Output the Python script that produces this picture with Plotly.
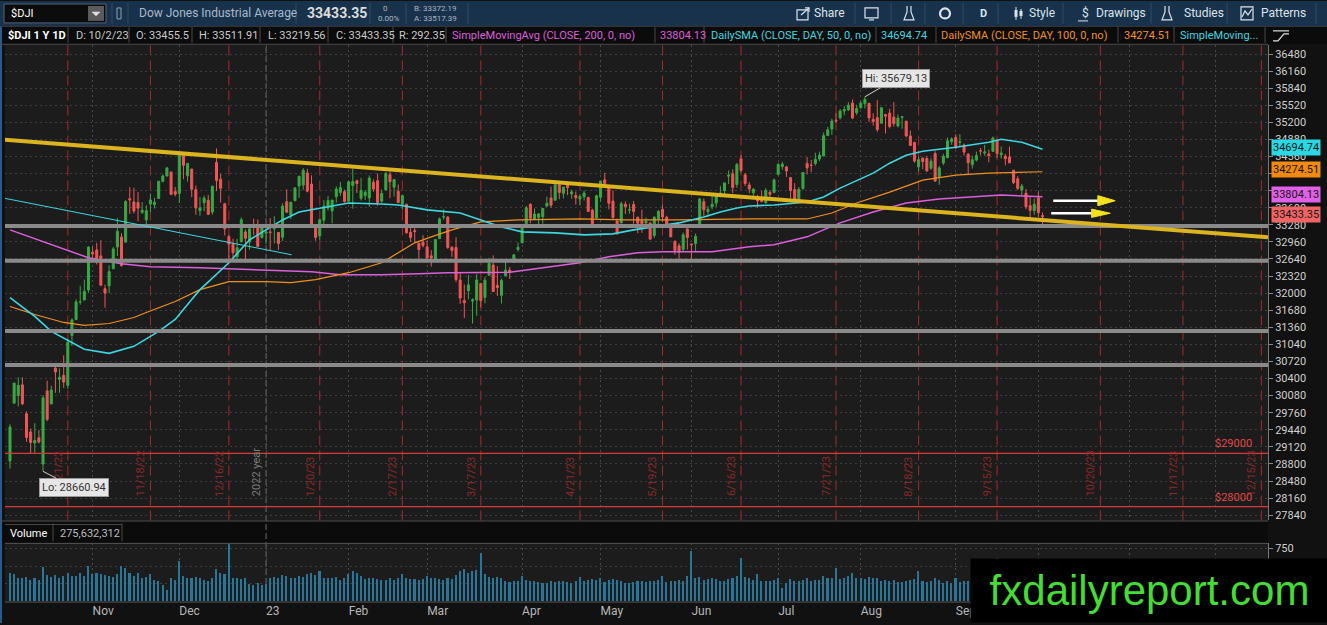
import pandas as pd
import plotly.graph_objects as go

W, H = 1327, 625
FONT = "Roboto, 'Open Sans', sans-serif"

# ---------------- trading calendar (NYSE sessions) ----------------
HOLIDAYS = ["2022-11-24", "2022-12-26", "2023-01-02", "2023-01-16", "2023-02-20", "2023-04-07",
            "2023-05-29", "2023-06-19", "2023-07-04", "2023-09-04", "2023-11-23", "2023-12-25"]
sessions = [d.strftime("%Y-%m-%d") for d in pd.bdate_range("2022-10-03", "2023-12-29")]
sessions = [d for d in sessions if d not in HOLIDAYS]
bar_of = {d: i for i, d in enumerate(sessions)}

# ---------------- daily OHLC of $DJI (Oct 3 2022 .. Oct 2 2023) ----------------
opens = [
    28856, 29938, 30084, 30282, 29740, 29400, 29193, 29291, 28800, 30168, 29923, 30598, 30384, 30460, 30273, 31208, 31504, 31836, 31871, 32061, 32768,
    32810, 32698, 32084, 32138, 32459, 32863, 33050, 32956, 33769, 33710, 33698, 33514, 33372, 33670, 33660, 33774, 34097, 34194, 34269, 33904, 33866,
    34579, 34198, 34324, 33940, 33546, 33696, 33740, 33519, 34449, 34136, 33674, 33060, 32924, 32683, 32965, 33147, 32961, 33264, 33280, 33045, 33121,
    33148, 33207, 33136, 33048, 33712, 33461, 33731, 34006, 34025, 34253, 34044, 33225, 33073, 33367, 33597, 33541, 33807, 33885, 33902, 33723,
    34015, 34105, 33776, 33827, 33785, 34079, 34106, 33722, 33935, 34219, 33985, 33909, 33664, 33665, 33139, 33171, 32937, 32958, 32867,
    32699, 32596, 33021, 33426, 33426, 32860, 32855, 32246, 31859, 32046, 31851, 31872, 32182, 31921, 32335, 32526, 32146, 31960, 32324, 32433, 32577, 32820, 32942,
    33301, 33665, 33389, 33416, 33431, 33630, 33784, 33740, 34029, 33870, 34043, 33859, 33829, 33765, 33804, 33793, 33555, 33406, 33797,
    34123, 33991, 33725, 33353, 33315, 33666, 33556, 33662, 33420, 33355, 33315, 33312, 33080, 33395, 33570, 33422, 33220, 32972, 32888, 32818, 33202, 32921,
    32928, 33240, 33714, 33528, 33620, 33687, 33835, 33920, 34191, 34238, 34036, 34516, 34216, 34027, 33879, 33761, 33754, 33700, 33887, 33887, 34226,
    34370, 34365, 34165, 33940, 33753, 33962, 34432, 34398, 34429, 34514, 34570, 34953, 35075, 35243, 35284, 35413, 35433, 35561, 35380, 35477,
    35550, 35558, 35257, 35288, 35184, 35347, 35373, 35299, 35131, 35293, 35223, 34946, 34822, 34366, 34531, 34522, 34339, 34617, 34182, 34437, 34538, 34837, 34918,
    34828, 34775, 34605, 34408, 34493, 34666, 34624, 34608, 34656, 34862, 34593, 34565, 34550, 34303, 34142, 33934, 33874, 33640, 33546, 33785,
    33455.5,
]
highs = [
    29543, 30317, 30424, 30424, 29785, 29461, 29565, 29435, 30089, 30360, 30268, 30663, 30590, 30835, 31143, 31527, 31886, 32137, 32254, 32878, 32873,
    32941, 32989, 32158, 32523, 32864, 33408, 33123, 33740, 33988, 33975, 33892, 33705, 33648, 33866, 33787, 34098, 34225, 34363, 34279, 33990, 34590,
    34595, 34439, 34333, 34016, 33802, 33825, 33838, 34006, 34712, 34235, 33692, 33092, 33019, 33017, 33420, 33193, 33226, 33395, 33380, 33297, 33152,
    33407, 33440, 33136, 33684, 33946, 33704, 33974, 34199, 34342, 34330, 34208, 33235, 33384, 33742, 33818, 33746, 34000, 34083, 33941, 34101,
    34335, 34124, 34162, 33929, 34206, 34134, 34240, 33938, 34268, 34274, 34128, 34035, 33847, 33672, 33256, 33264, 32937, 33087, 32985,
    32805, 33007, 33418, 33572, 33442, 32881, 33046, 32390, 32161, 32340, 31902, 32364, 32183, 32300, 32661, 32708, 32505, 32273, 32629, 32491, 32730, 32950, 33274,
    33633, 33683, 33584, 33496, 33590, 33809, 33999, 34039, 34082, 33988, 34082, 33938, 33903, 33857, 33921, 33804, 33581, 33841, 34104,
    34257, 33992, 33923, 33400, 33713, 33719, 33675, 33726, 33435, 33563, 33415, 33334, 33444, 33552, 33654, 33450, 33261, 32985, 32934, 33135, 33211, 32925,
    33115, 33787, 33775, 33634, 33839, 33861, 34007, 34067, 34299, 34322, 34441, 34589, 34255, 34078, 33970, 33842, 33916, 33967, 33927, 34148, 34441,
    34463, 34384, 34165, 34060, 33990, 34270, 34549, 34494, 34630, 34652, 35009, 35115, 35268, 35370, 35451, 35505, 35578, 35630, 35528, 35597,
    35679.13, 35558, 35371, 35620, 35486, 35347, 35453, 35579, 35349, 35316, 35223, 35046, 34839, 34557, 34537, 34573, 34527, 34658, 34382, 34611, 34913, 34919, 34976,
    34979, 34802, 34619, 34574, 34651, 34720, 34778, 34689, 34934, 34872, 34749, 34608, 34747, 34310, 34191, 34046, 33950, 33811, 33775, 33900,
    33511.91,
]
lows = [
    28715, 29938, 29878, 29903, 29214, 28995, 28990, 29184, 28660.94, 29600, 29923, 30133, 30133, 30226, 30206, 31012, 31504, 31783, 31871, 32006, 32592,
    32537, 32146, 31727, 32000, 32459, 32695, 32500, 32956, 33484, 33492, 33346, 33484, 33266, 33522, 33585, 33774, 34075, 34194, 33837, 33814, 33688,
    34134, 34087, 33797, 33469, 33450, 33535, 33467, 33470, 33912, 33697, 33081, 32573, 32640, 32581, 32948, 32573, 32813, 33088, 32868, 33019, 32920,
    32813, 32932, 32812, 32978, 33499, 33388, 33731, 33786, 33936, 33889, 33271, 32983, 32991, 33290, 33547, 33308, 33694, 33822, 33696, 33718,
    33582, 33876, 33738, 33747, 33617, 33899, 33637, 33692, 33924, 33781, 33809, 33692, 33560, 33118, 32957, 32950, 32581, 32857, 32656,
    32500, 32580, 33019, 33378, 32829, 32679, 32206, 31801, 31532, 31886, 31430, 31576, 31731, 31810, 32335, 32028, 31949, 31805, 32324, 32266, 32577, 32780, 32942,
    33284, 33310, 33375, 33274, 33300, 33630, 33598, 33740, 33760, 33777, 33837, 33768, 33660, 33650, 33735, 33520, 33228, 33406, 33713,
    34012, 33570, 33393, 33090, 33315, 33482, 33488, 33301, 33124, 33130, 33204, 33005, 33033, 33264, 33335, 33240, 33047, 32720, 32586, 32773, 32815, 32577,
    32790, 33240, 33436, 33428, 33567, 33618, 33794, 33858, 34044, 33875, 33975, 34262, 34005, 33871, 33762, 33601, 33709, 33672, 33750, 33883, 34205,
    34313, 34178, 33780, 33715, 33753, 33936, 34223, 34266, 34391, 34472, 34570, 34946, 34967, 35188, 35254, 35332, 35415, 35260, 35340, 35453,
    35460, 35210, 35140, 35024, 35184, 34990, 35087, 35120, 35105, 35080, 34917, 34761, 34442, 34282, 34321, 34276, 34310, 34084, 34030, 34398, 34527, 34781, 34703,
    34750, 34579, 34226, 34334, 34467, 34581, 34574, 34452, 34656, 34534, 34521, 34396, 34435, 34046, 33932, 33833, 33573, 33355, 33469, 33427,
    33219.56,
]
closes = [
    29491, 30316, 30274, 29927, 29297, 29203, 29239, 29211, 30039, 29635, 30186, 30524, 30424, 30334, 31083, 31500, 31837, 31839, 32033, 32862, 32733,
    32653, 32148, 32001, 32403, 32827, 33161, 32514, 33715, 33748, 33537, 33593, 33554, 33546, 33746, 33700, 34098, 34194, 34347, 33849, 33853, 34590,
    34395, 34430, 33947, 33596, 33598, 33781, 33476, 34005, 34109, 33966, 33202, 32920, 32758, 32850, 33376, 33027, 33204, 33242, 32876, 33221, 33147,
    33136, 33270, 32930, 33631, 33518, 33704, 33973, 34190, 34303, 33911, 33297, 33045, 33375, 33630, 33734, 33744, 33949, 33978, 33717, 34086,
    34093, 34054, 33926, 33891, 34157, 33949, 33700, 33869, 34246, 34089, 34128, 33697, 33827, 33130, 33045, 33154, 32817, 32889, 32657,
    32662, 33004, 33391, 33431, 32856, 32798, 32255, 31910, 31819, 32155, 31875, 32247, 31862, 32245, 32561, 32030, 32105, 32238, 32432, 32394, 32718, 32859, 33274,
    33601, 33402, 33483, 33485, 33587, 33685, 33647, 34030, 33886, 33987, 33977, 33897, 33787, 33809, 33875, 33531, 33302, 33826, 34098,
    34052, 33685, 33414, 33128, 33674, 33619, 33562, 33531, 33310, 33301, 33349, 33012, 33421, 33536, 33427, 33287, 33056, 32800, 32765, 33093, 33043, 32908,
    33062, 33763, 33563, 33573, 33665, 33834, 33877, 34066, 34212, 33979, 34408, 34299, 34054, 33952, 33947, 33727, 33715, 33927, 33853, 34122, 34408,
    34418, 34289, 33922, 33735, 33944, 34261, 34347, 34395, 34509, 34585, 34952, 35061, 35225, 35228, 35411, 35438, 35520, 35283, 35459, 35560,
    35631, 35283, 35216, 35066, 35473, 35314, 35123, 35176, 35281, 35308, 34946, 34766, 34475, 34501, 34464, 34289, 34473, 34099, 34347, 34560, 34853, 34890, 34722,
    34838, 34642, 34443, 34501, 34577, 34664, 34646, 34576, 34907, 34618, 34624, 34518, 34441, 34070, 33964, 34007, 33619, 33551, 33666, 33508,
    33433.35,
]
# daily volume, millions of shares
volumes = [
    390, 380, 330, 320, 340, 300, 330, 300, 480, 370, 340, 370, 330, 350, 400, 350, 360, 390, 360, 495, 380,
    390, 380, 370, 360, 340, 380, 495, 470, 400, 350, 390, 330, 340, 380, 300, 290, 230, 150, 330, 300, 570,
    360, 320, 330, 340, 330, 300, 290, 330, 450, 400, 380, 806, 330, 320, 310, 330, 240, 230, 250, 220, 240,
    330, 340, 330, 370, 350, 330, 320, 350, 340, 380, 400, 370, 420, 330, 320, 330, 340, 300, 330, 380,
    420, 400, 350, 310, 330, 320, 310, 300, 300, 320, 300, 330, 380, 330, 310, 310, 300, 310, 360,
    330, 320, 310, 300, 330, 310, 370, 420, 450, 400, 430, 440, 683, 380, 340, 330, 340, 320, 290, 270, 280, 290, 350,
    300, 290, 280, 270, 250, 260, 290, 270, 290, 280, 270, 260, 290, 340, 280, 300, 310, 300, 320,
    270, 300, 310, 300, 290, 260, 250, 270, 280, 290, 270, 280, 290, 300, 350, 270, 280, 280, 300, 290, 350, 700,
    330, 340, 300, 310, 320, 310, 290, 290, 310, 330, 350, 608, 340, 320, 300, 380, 290, 290, 280, 300, 330,
    180, 250, 310, 280, 290, 300, 320, 290, 300, 300, 360, 330, 320, 467, 310, 320, 360, 390, 320, 330,
    310, 340, 320, 330, 280, 300, 290, 300, 270, 270, 290, 300, 310, 420, 280, 270, 280, 320, 300, 250, 290, 260, 330,
    270, 290, 280, 290, 260, 270, 280, 290, 300, 608, 280, 270, 310, 330, 320, 300, 330, 340, 320, 360,
    275.63,
]
for arr in (opens, highs, lows, closes, volumes):
    assert len(arr) == len(closes), len(arr)
dates = sessions[:len(closes)]

# ---------------- moving averages ----------------
sma50_dates = ["2022-10-03", "2022-10-11", "2022-10-17", "2022-10-27", "2022-11-04", "2022-11-14", "2022-11-22", "2022-11-29",
               "2022-12-05", "2022-12-07", "2022-12-16", "2022-12-23", "2022-12-30", "2023-01-06", "2023-01-12", "2023-01-20",
               "2023-01-31", "2023-02-10", "2023-02-16", "2023-02-28", "2023-03-10", "2023-03-17", "2023-03-24", "2023-03-31",
               "2023-04-13", "2023-04-24", "2023-05-03", "2023-05-10", "2023-05-17", "2023-05-25", "2023-06-05", "2023-06-09",
               "2023-06-15", "2023-06-21", "2023-06-29", "2023-07-12", "2023-07-18", "2023-07-24", "2023-08-03", "2023-08-09",
               "2023-08-15", "2023-08-21", "2023-08-31", "2023-09-13", "2023-09-18", "2023-09-25", "2023-10-02"]
sma50_vals = [31917, 31563, 31283, 30948, 30873, 31004, 31283, 31507,
              31880, 32066, 32570, 32999, 33185, 33372, 33521, 33595,
              33689, 33670, 33651, 33560, 33502, 33372, 33241, 33148,
              33129, 33092, 33111, 33185, 33241, 33316, 33428, 33521,
              33595, 33633, 33651, 33707, 33801, 33968, 34248, 34435,
              34584, 34658, 34733, 34826, 34882, 34826, 34694.74]
sma100_dates = ["2022-10-03", "2022-10-11", "2022-10-20", "2022-10-27", "2022-11-04", "2022-11-14", "2022-11-17", "2022-11-29",
                "2022-12-07", "2022-12-16", "2022-12-30", "2023-01-10", "2023-01-19", "2023-01-31", "2023-02-10", "2023-02-23",
                "2023-03-01", "2023-03-08", "2023-03-17", "2023-03-30", "2023-04-21", "2023-05-08", "2023-05-25", "2023-06-21",
                "2023-07-12", "2023-07-20", "2023-07-28", "2023-08-09", "2023-08-21", "2023-08-31", "2023-09-13", "2023-10-02"]
sma100_vals = [31750, 31600, 31451, 31395, 31432, 31544, 31638, 31843,
               32066, 32216, 32216, 32197, 32253, 32383, 32570, 32943,
               33055, 33185, 33334, 33372, 33390, 33372, 33372, 33390,
               33390, 33502, 33689, 33894, 34118, 34211, 34248, 34274.51]
sma200_dates = ["2022-10-03", "2022-10-28", "2022-11-09", "2022-11-18", "2022-12-07", "2022-12-29", "2023-01-18", "2023-01-27",
                "2023-02-10", "2023-02-24", "2023-03-07", "2023-03-28", "2023-03-31", "2023-04-12", "2023-04-21", "2023-05-02",
                "2023-05-11", "2023-05-19", "2023-06-07", "2023-06-21", "2023-06-29", "2023-07-12", "2023-07-24", "2023-08-03",
                "2023-08-15", "2023-08-25", "2023-09-06", "2023-09-18", "2023-10-02"]
sma200_vals = [33185, 32663, 32551, 32495, 32476, 32439, 32402, 32346,
               32346, 32365, 32383, 32390, 32420, 32495, 32570, 32682,
               32756, 32775, 32775, 32868, 32906, 33055, 33316, 33521,
               33689, 33763, 33801, 33838, 33804.13]

# ---------------- drawings ----------------
gray_levels = [33259, 32607, 31289, 30655]
red_levels = [29000, 28000]
yellow_trend = (-1.6, 34877, 304.6, 33045)     # (bar, price) -> (bar, price)
cyan_trend = (-1.2, 33776, 68.2, 32719)
arrows = [(252.6, 263.4, 267.6, 33732, 95), (252.1, 261.9, 266.4, 33497, 78)]
expiry_dates = ["2022-10-21", "2022-11-18", "2022-12-16", "2023-01-20", "2023-02-17", "2023-03-17", "2023-04-21",
                "2023-05-19", "2023-06-16", "2023-07-21", "2023-08-18", "2023-09-15", "2023-10-20", "2023-11-17", "2023-12-15"]
month_tick_dates = ["2022-10-31", "2022-11-30", "2022-12-30", "2023-01-31", "2023-02-28", "2023-03-31", "2023-04-28",
                    "2023-05-31", "2023-06-30", "2023-07-31", "2023-08-31", "2023-09-29", "2023-10-31", "2023-11-30"]
# labels after "Sep" sit under the watermark in the reference
month_tick_text = ["Nov", "Dec", "23", "Feb", "Mar", "Apr", "May", "Jun", "Jul", "Aug", "Sep", "", "", ""]
year_sep_date = "2022-12-30"
hi_date, hi_val = "2023-08-01", 35679.13
lo_date, lo_val = "2022-10-13", 28660.94

# colors
UP, DOWN = "#3aa845", "#ee5757"
CYAN, ORANGE, MAGENTA = "#3cd8e2", "#f0901e", "#dc5fdc"
YELLOW, GRAYLINE = "#dcb41e", "#8a8a8a"
ICON = "#dbe3ea"

def px(x):
    return x / W

def py(y):
    return 1 - y / H

X0, X1 = 5, 1268
P_TOP, P_BOT = 44, 522
V_TOP, V_BOT = 545, 604

fig = go.Figure()
fig.add_trace(go.Candlestick(
    x=[bar_of[d] for d in dates], open=opens, high=highs, low=lows, close=closes,
    increasing=dict(line=dict(color=UP, width=1), fillcolor=UP),
    decreasing=dict(line=dict(color=DOWN, width=1), fillcolor=DOWN),
    whiskerwidth=0, xaxis="x", yaxis="y", hoverinfo="skip"))
for ds, vs, col, wd in [(sma200_dates, sma200_vals, MAGENTA, 1.5), (sma100_dates, sma100_vals, ORANGE, 1.2),
                        (sma50_dates, sma50_vals, CYAN, 1.6)]:
    fig.add_trace(go.Scatter(x=[bar_of[d] for d in ds], y=vs, mode="lines", line=dict(color=col, width=wd),
                             xaxis="x", yaxis="y", hoverinfo="skip"))
fig.add_trace(go.Bar(x=[bar_of[d] for d in dates], y=volumes, marker=dict(color="#2b7698", line=dict(width=0)),
                     width=0.38, xaxis="x2", yaxis="y2", hoverinfo="skip"))

shapes = []
ann = []

def rect(x0, y0, x1, y1, fill, line=None, lw=0):
    shapes.append(dict(type="rect", xref="paper", yref="paper", x0=px(x0), x1=px(x1), y0=py(y1), y1=py(y0),
                       fillcolor=fill, line=dict(color=line or fill, width=lw), layer="below"))

def outline(x0, y0, x1, y1, color, lw=1.2):
    shapes.append(dict(type="rect", xref="paper", yref="paper", x0=px(x0), x1=px(x1), y0=py(y1), y1=py(y0),
                       line=dict(color=color, width=lw)))

def seg(x0, y0, x1, y1, color, w=1):
    shapes.append(dict(type="line", xref="paper", yref="paper", x0=px(x0), x1=px(x1), y0=py(y0), y1=py(y1),
                       line=dict(color=color, width=w)))

def poly(points, color, fill=None, lw=1.2):
    p = "M " + " L ".join(f"{px(a):.5f},{py(b):.5f}" for a, b in points) + (" Z" if fill else "")
    shapes.append(dict(type="path", xref="paper", yref="paper", path=p, fillcolor=fill,
                       line=dict(color=color, width=lw)))

def text(x, y, s, color="#d0d0d0", size=11, anchor="left", bold=False, **kw):
    if bold:
        s = "<b>" + s + "</b>"
    ann.append(dict(xref="paper", yref="paper", x=px(x), y=py(y), text=s, showarrow=False, xanchor=anchor,
                    yanchor="middle", font=dict(family=FONT, size=size, color=color), **kw))

# --- top toolbar ---
rect(0, 0, W, 25, "#19324b")
rect(4, 3, 106, 22, "#0c0c0c", "#50657a", 1)
rect(88, 5, 104, 20, "#5b5b5b")
poly([(92, 11), (100, 11), (96, 15)], "#dddddd", "#dddddd", 0.5)
text(9, 12.5, "$DJI", "#ffffff", 11)
outline(117, 7, 121, 18, "#8fa3b5", 1)
for sx in [112, 128, 296, 370, 406, 468, 855, 891, 925, 963, 998, 1063, 1151, 1227, 1316]:
    seg(sx, 2, sx, 23, "#2c4b68")
text(137, 12.5, "Dow Jones Industrial Average", "#a6b9cc", 12)
text(305, 12.5, "33433.35", "#dcdcdc", 14, bold=True)
text(381, 7.5, "0", "#aab6c2", 8)
text(376, 18, "0.00%", "#aab6c2", 8)
text(412, 7.5, "B: 33372.19", "#aab6c2", 8)
text(412, 18, "A: 33517.39", "#aab6c2", 8)
# icons drawn with simple strokes
outline(797, 9, 808, 19, ICON)
poly([(801, 14), (809, 7)], ICON)
poly([(805, 7), (809, 7), (809, 11)], ICON)
outline(865, 7, 878, 17, ICON)
seg(869, 19, 874, 19, ICON, 1.2)
for fx in (904, 1162):
    poly([(fx + 3, 5), (fx + 3, 11), (fx, 19), (fx + 10, 19), (fx + 7, 11), (fx + 7, 5)], ICON, None, 1.2)
shapes.append(dict(type="circle", xref="paper", yref="paper", x0=px(940), x1=px(950), y0=py(17.5), y1=py(7.5),
                   line=dict(color=ICON, width=2.2)))
seg(1016, 6, 1016, 19, ICON, 1)
rect(1014.5, 9, 1017.5, 16, ICON)
seg(1021, 8, 1021, 18, ICON, 1)
rect(1019.5, 10, 1022.5, 15, ICON)
seg(1078, 20, 1088, 20, ICON, 1)
outline(1241, 6, 1253, 19, ICON)
poly([(1242, 16), (1245, 10), (1248, 14), (1252, 8)], ICON)
for x, s, sz, b in [(812, "Share", 12, False), (978, "D", 11, True), (1027, "Style", 12, False),
                    (1080, "$", 12, False), (1094, "Drawings", 12, False), (1182, "Studies", 12, False),
                    (1259, "Patterns", 12, False)]:
    text(x, 12.5, s, ICON, sz, bold=b)

# --- study header row ---
rect(0, 25, W, 43, "#0b0b0b")
seg(0, 25.5, W, 25.5, "#3a3a3a")
seg(0, 43.5, 1268, 43.5, "#4a4a4a")
for sx in [68, 129, 192, 260, 328, 393, 446, 655, 704, 876, 936, 1118, 1174, 1265]:
    seg(sx, 26, sx, 42, "#4a4a4a")
hdr = [(6, "$DJI 1 Y 1D", "#ffffff", True), (74, "D: 10/2/23", "#c8c8c8", False), (134, "O: 33455.5", "#c8c8c8", False),
       (197, "H: 33511.91", "#c8c8c8", False), (266, "L: 33219.56", "#c8c8c8", False), (334, "C: 33433.35", "#c8c8c8", False),
       (397, "R: 292.35", "#c8c8c8", False), (450, "SimpleMovingAvg (CLOSE, 200, 0, no)", MAGENTA, False),
       (658, "33804.13", MAGENTA, False), (709, "DailySMA (CLOSE, DAY, 50, 0, no)", CYAN, False),
       (879, "34694.74", CYAN, False), (939, "DailySMA (CLOSE, DAY, 100, 0, no)", ORANGE, False),
       (1122, "34274.51", ORANGE, False), (1178, "SimpleMoving...", CYAN, False)]
for x, s, c, b in hdr:
    text(x, 34.5, s, c, 11, bold=b)
seg(1273, 30, 1289, 30, "#e0e0e0", 1.2)
poly([(1273, 40), (1278, 40), (1284, 33), (1289, 33)], "#e0e0e0")

# --- volume header ---
rect(0, 522, 1268, 545, "#0b0b0b")
seg(0, 522.5, 1268, 522.5, "#555555")
seg(5, 545, 1268, 545, "#555555")
seg(5, 604, 1268, 604, "#555555")
seg(53, 525, 53, 543, "#4a4a4a")
seg(122, 525, 122, 543, "#4a4a4a")
seg(5, 526, 122, 526, "#4a4a4a")
text(8, 535, "Volume", "#ffffff", 11)
text(58, 535, "275,632,312", "#bcbcbc", 11)

# left blue frame edge
rect(0, 25, 2, H, "#2a5a88")

# --- price drawings ---
for d in expiry_dates:
    shapes.append(dict(type="line", xref="x", yref="y domain", x0=bar_of[d], x1=bar_of[d], y0=0, y1=1,
                       line=dict(color="#a82a2a", width=1, dash="10px,5px"), layer="below"))
    y_, m_, d_ = d.split("-")
    ann.append(dict(xref="x", yref="y", x=bar_of[d], y=28151, text=f"{int(m_)}/{int(d_)}/{y_[2:]}", showarrow=False,
                    textangle=-90, xanchor="right", yanchor="bottom", xshift=-1,
                    font=dict(family=FONT, size=11, color="#8a2828")))
shapes.append(dict(type="line", xref="x", yref="paper", x0=bar_of[year_sep_date], x1=bar_of[year_sep_date],
                   y0=py(V_BOT), y1=py(P_TOP), line=dict(color="#6c6c6c", width=1, dash="6px,3px"), layer="below"))
ann.append(dict(xref="x", yref="y", x=bar_of[year_sep_date], y=28151, text="2022 year", showarrow=False,
                textangle=-90, xanchor="right", yanchor="bottom", xshift=-1,
                font=dict(family=FONT, size=11, color="#7c7c7c")))
for v in red_levels:
    shapes.append(dict(type="line", xref="x domain", yref="y", x0=0, x1=1, y0=v, y1=v,
                       line=dict(color="#d63a3a", width=1.2)))
    ann.append(dict(xref="paper", yref="y", x=px(1254), y=v, text=f"${v}", showarrow=False, xanchor="right",
                    yanchor="bottom", yshift=1, font=dict(family=FONT, size=11, color="#e04848")))
for v in gray_levels:
    shapes.append(dict(type="line", xref="x domain", yref="y", x0=0, x1=1, y0=v, y1=v,
                       line=dict(color=GRAYLINE, width=4)))
shapes.append(dict(type="line", xref="x", yref="y", x0=cyan_trend[0], y0=cyan_trend[1], x1=cyan_trend[2],
                   y1=cyan_trend[3], line=dict(color=CYAN, width=1)))
shapes.append(dict(type="line", xref="x", yref="y", x0=yellow_trend[0], y0=yellow_trend[1], x1=yellow_trend[2],
                   y1=yellow_trend[3], line=dict(color=YELLOW, width=4)))
for xa, xb, tip, yv, half in arrows:
    shapes.append(dict(type="line", xref="x", yref="y", x0=xa, x1=xb + 0.5, y0=yv, y1=yv,
                       line=dict(color="#ffffff", width=2.5)))
    shapes.append(dict(type="path", xref="x", yref="y",
                       path=f"M {xb},{yv + half} L {tip},{yv} L {xb},{yv - half} Z",
                       fillcolor="#f2e21c", line=dict(color="#f2e21c", width=1)))

# price tags on the right axis
for v, c in [(34694.74, "#28d9e4"), (34274.51, "#f28a12"), (33804.13, "#e060e8"), (33433.35, "#f06464")]:
    ann.append(dict(xref="paper", yref="y", x=px(1271), y=v, text=f"{v:.2f}", showarrow=False, xanchor="left",
                    yanchor="middle", yshift=2, bgcolor=c, borderpad=1,
                    font=dict(family=FONT, size=11, color="#161616")))

# Hi / Lo callouts
for d, v, axp, ayp, lab in [(hi_date, hi_val, 31, -18, "Hi: 35679.13"), (lo_date, lo_val, 31, 16, "Lo: 28660.94")]:
    ann.append(dict(xref="x", yref="y", x=bar_of[d], y=v, text=lab, showarrow=True, arrowhead=0, arrowwidth=1,
                    arrowcolor="#cfcfcf", ax=axp, ay=ayp, bgcolor="#e6e6e6", bordercolor="#9a9a9a", borderwidth=1,
                    borderpad=2, font=dict(family=FONT, size=11, color="#333333")))

# watermark
ann.append(dict(xref="paper", yref="paper", x=px(970), y=0, xanchor="left", yanchor="bottom", width=357, height=63,
                bgcolor="#000000", borderpad=0, showarrow=False, text="fxdailyreport.com", align="center",
                valign="middle", font=dict(family="Liberation Sans, Arial, sans-serif", size=42, color="#44dd33")))

price_ticks = list(range(27840, 36481, 320))
fig.update_layout(
    width=W, height=H, margin=dict(l=0, r=0, t=0, b=0),
    paper_bgcolor="#111111", plot_bgcolor="#1c1c1c", showlegend=False, hovermode=False,
    font=dict(family=FONT),
    xaxis=dict(domain=[px(X0), px(X1)], range=[-1.21, 304.6], anchor="y", rangeslider=dict(visible=False),
               showticklabels=False, tickvals=[bar_of[d] for d in month_tick_dates], ticks="",
               showgrid=True, gridcolor="#4a4a4a", griddash="2px,3px", zeroline=False, showline=False),
    xaxis2=dict(domain=[px(X0), px(X1)], matches="x", anchor="y2", tickvals=[bar_of[d] for d in month_tick_dates],
                ticktext=month_tick_text, ticks="", ticklabelposition="outside right",
                tickfont=dict(family=FONT, size=12, color="#b6b6b6"),
                showgrid=True, gridcolor="#4a4a4a", griddash="2px,3px", zeroline=False, showline=False),
    yaxis=dict(domain=[py(P_BOT), py(P_TOP)], range=[27741, 36653], side="right", anchor="x",
               tickvals=price_ticks, ticktext=[str(t) for t in price_ticks], ticks="outside", ticklen=4,
               tickcolor="#8a8a8a", tickfont=dict(family=FONT, size=11, color="#cfcfcf"), showgrid=True,
               gridcolor="#3e3e3e", griddash="2px,3px", zeroline=False, showline=True, linecolor="#777777"),
    yaxis2=dict(domain=[py(V_BOT), py(V_TOP)], range=[-9.8, 820], side="right", anchor="x2",
                tickvals=[250, 500, 750], ticktext=["", "", "750"], ticks="outside", ticklen=4,
                tickcolor="#8a8a8a", tickfont=dict(family=FONT, size=11, color="#cfcfcf"), showgrid=True,
                gridcolor="#3e3e3e", griddash="2px,3px", zeroline=False, showline=True, linecolor="#777777"),
    shapes=shapes, annotations=ann, bargap=0,
)

fig.write_html("out.html", config={"displayModeBar": False},
               post_script="document.body.style.margin='0';")
